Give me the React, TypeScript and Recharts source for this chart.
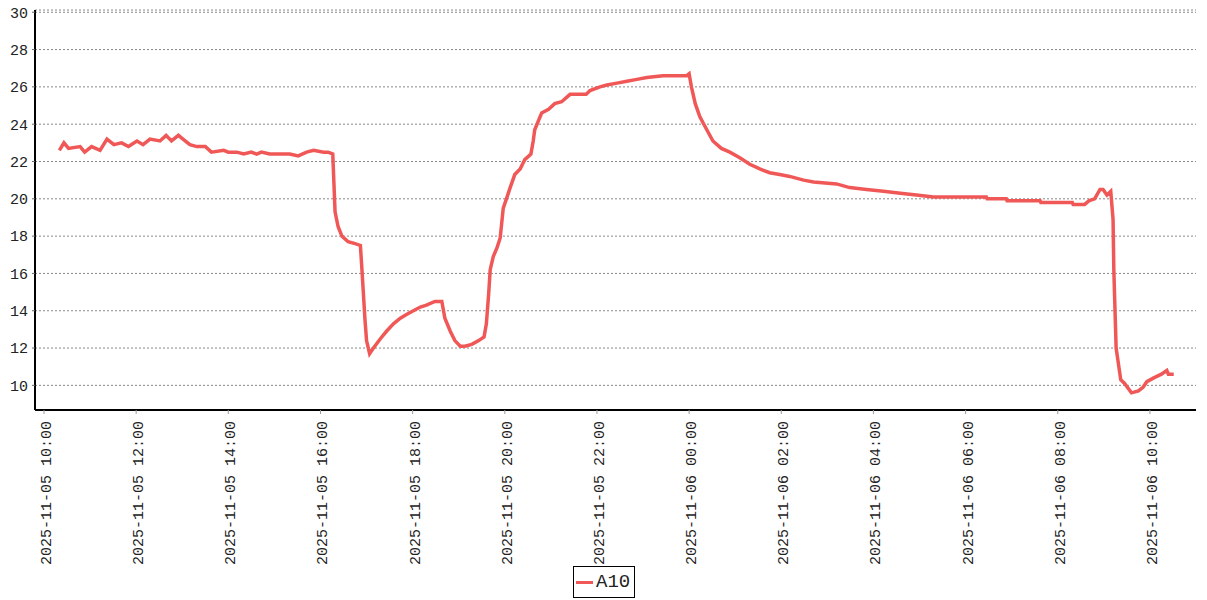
import { LineChart, Line, XAxis, YAxis, CartesianGrid } from 'recharts';

const seriesName = 'A10';

// reading times (MM-DD HH:MM) and temperatures
const times = [
  '11-05 10:20', '11-05 10:26', '11-05 10:32', '11-05 10:47', '11-05 10:53', '11-05 11:02', '11-05 11:13',
  '11-05 11:22', '11-05 11:31', '11-05 11:41', '11-05 11:50', '11-05 12:01', '11-05 12:09', '11-05 12:18',
  '11-05 12:31', '11-05 12:39', '11-05 12:46', '11-05 12:55', '11-05 13:01', '11-05 13:10', '11-05 13:19',
  '11-05 13:30', '11-05 13:38', '11-05 13:54', '11-05 14:00', '11-05 14:11', '11-05 14:20', '11-05 14:30',
  '11-05 14:37', '11-05 14:43', '11-05 14:54', '11-05 15:20', '11-05 15:31', '11-05 15:42', '11-05 15:51',
  '11-05 16:04', '11-05 16:10', '11-05 16:16', '11-05 16:19', '11-05 16:23', '11-05 16:28', '11-05 16:36',
  '11-05 16:45', '11-05 16:52', '11-05 16:54', '11-05 16:58', '11-05 17:00', '11-05 17:04', '11-05 17:09',
  '11-05 17:18', '11-05 17:26', '11-05 17:35', '11-05 17:44', '11-05 17:52', '11-05 18:01', '11-05 18:10',
  '11-05 18:18', '11-05 18:29', '11-05 18:38', '11-05 18:42', '11-05 18:49', '11-05 18:55', '11-05 19:02',
  '11-05 19:08', '11-05 19:17', '11-05 19:26', '11-05 19:33', '11-05 19:36', '11-05 19:39', '11-05 19:41',
  '11-05 19:45', '11-05 19:50', '11-05 19:54', '11-05 19:58', '11-05 20:03', '11-05 20:07', '11-05 20:13',
  '11-05 20:20', '11-05 20:26', '11-05 20:34', '11-05 20:37', '11-05 20:39', '11-05 20:44', '11-05 20:48',
  '11-05 20:57', '11-05 21:05', '11-05 21:14', '11-05 21:25', '11-05 21:46', '11-05 21:51', '11-05 22:04',
  '11-05 22:13', '11-05 22:26', '11-05 22:39', '11-05 22:52', '11-05 23:05', '11-05 23:26', '11-05 23:57',
  '11-06 00:00', '11-06 00:03', '11-06 00:08', '11-06 00:14', '11-06 00:23', '11-06 00:31', '11-06 00:42',
  '11-06 00:53', '11-06 01:06', '11-06 01:19', '11-06 01:32', '11-06 01:45', '11-06 01:58', '11-06 02:11',
  '11-06 02:29', '11-06 02:42', '11-06 03:12', '11-06 03:29', '11-06 03:51', '11-06 04:13', '11-06 04:35',
  '11-06 04:56', '11-06 05:18', '11-06 06:27', '11-06 06:28', '11-06 06:53', '11-06 06:54', '11-06 07:37',
  '11-06 07:38', '11-06 08:19', '11-06 08:20', '11-06 08:35', '11-06 08:41', '11-06 08:48', '11-06 08:55',
  '11-06 08:59', '11-06 09:04', '11-06 09:09', '11-06 09:12', '11-06 09:13', '11-06 09:16', '11-06 09:22',
  '11-06 09:27', '11-06 09:36', '11-06 09:45', '11-06 09:51', '11-06 09:56', '11-06 10:05', '11-06 10:15',
  '11-06 10:22', '11-06 10:24', '11-06 10:31',
];

const a10 = [
  22.6, 23.0, 22.7, 22.8, 22.5, 22.8, 22.6,
  23.2, 22.9, 23.0, 22.8, 23.1, 22.9, 23.2,
  23.1, 23.4, 23.1, 23.4, 23.2, 22.9, 22.8,
  22.8, 22.5, 22.6, 22.5, 22.5, 22.4, 22.5,
  22.4, 22.5, 22.4, 22.4, 22.3, 22.5, 22.6,
  22.5, 22.5, 22.4, 19.3, 18.5, 18.0, 17.7,
  17.6, 17.5, 16.2, 13.5, 12.4, 11.7, 12.0,
  12.5, 12.9, 13.3, 13.6, 13.8, 14.0, 14.2,
  14.3, 14.5, 14.5, 13.6, 12.9, 12.4, 12.1,
  12.1, 12.2, 12.4, 12.6, 13.3, 14.9, 16.2,
  16.9, 17.4, 17.9, 19.5, 20.1, 20.6, 21.3,
  21.6, 22.1, 22.4, 23.1, 23.7, 24.2, 24.6,
  24.8, 25.1, 25.2, 25.6, 25.6, 25.8, 26.0,
  26.1, 26.2, 26.3, 26.4, 26.5, 26.6, 26.6,
  26.7, 26.0, 25.1, 24.4, 23.7, 23.1, 22.7,
  22.5, 22.2, 21.85, 21.6, 21.4, 21.3, 21.2,
  21.0, 20.9, 20.8, 20.6, 20.5, 20.4, 20.3,
  20.2, 20.1, 20.1, 20.0, 20.0, 19.9, 19.9,
  19.8, 19.8, 19.7, 19.7, 19.9, 20.0, 20.5,
  20.5, 20.2, 20.4, 18.9, 16.2, 12.0, 10.3,
  10.1, 9.6, 9.7, 9.9, 10.2, 10.4, 10.6,
  10.8, 10.6, 10.6,
];

const xTickLabels = [
  '2025-11-05 10:00', '2025-11-05 12:00', '2025-11-05 14:00', '2025-11-05 16:00', '2025-11-05 18:00',
  '2025-11-05 20:00', '2025-11-05 22:00', '2025-11-06 00:00', '2025-11-06 02:00', '2025-11-06 04:00',
  '2025-11-06 06:00', '2025-11-06 08:00', '2025-11-06 10:00',
];

const yTicks = [10, 12, 14, 16, 18, 20, 22, 24, 26, 28, 30];

// hours since 2025-11-05 00:00
const toHours = (s: string) => {
  const m = s.match(/(\d\d)-(\d\d) (\d\d):(\d\d)$/)!;
  return (parseInt(m[2], 10) - 5) * 24 + parseInt(m[3], 10) + parseInt(m[4], 10) / 60;
};

const data = times.map((t, i) => ({ t: toHours(t), v: a10[i] }));
const xTicks = xTickLabels.map(toHours);
const labelFor = (h: number) => xTickLabels[xTicks.indexOf(h)] ?? '';

const FONT = '"Liberation Mono", monospace';
const LINE_COLOR = '#f05858';
const TEXT = '#222';

function RotatedTick(props: any) {
  const { x, y, payload } = props;
  return (
    <g transform={`translate(${x},${y})`}>
      <text
        transform="rotate(-90)"
        x={-5}
        y={7}
        textAnchor="end"
        fill={TEXT}
        fontSize={15}
        fontFamily={FONT}
      >
        {labelFor(payload.value)}
      </text>
    </g>
  );
}

export default function App() {
  return (
    <div style={{ position: 'relative', width: 1207, height: 600, margin: '-8px 0 0 -8px', background: '#fff' }}>
      <LineChart width={1207} height={600} data={data} margin={{ top: 10, right: 11, left: 0, bottom: 30 }}>
        <CartesianGrid vertical={false} stroke="#888" strokeDasharray="2 2" />
        <XAxis
          dataKey="t"
          type="number"
          domain={[9.805, 35.0]}
          ticks={xTicks}
          allowDataOverflow
          height={160}
          tickSize={4}
          tickLine={{ stroke: '#999' }}
          axisLine={{ stroke: '#000', strokeWidth: 2 }}
          tick={<RotatedTick />}
          interval={0}
        />
        <YAxis
          type="number"
          domain={[8.68, 30.12]}
          ticks={yTicks}
          allowDataOverflow
          width={35}
          tickSize={3}
          tickMargin={4}
          tickLine={{ stroke: '#666' }}
          axisLine={{ stroke: '#000', strokeWidth: 2 }}
          tick={{ fill: TEXT, fontSize: 15, fontFamily: FONT }}
          interval={0}
        />
        <Line
          type="linear"
          dataKey="v"
          name={seriesName}
          stroke={LINE_COLOR}
          strokeWidth={3.5}
          dot={false}
          isAnimationActive={false}
        />
      </LineChart>
      <div
        style={{
          position: 'absolute',
          left: 573,
          top: 566,
          width: 60,
          height: 30,
          border: '1px solid #000',
          display: 'flex',
          alignItems: 'center',
          fontFamily: FONT,
          fontSize: 19,
          color: TEXT,
        }}
      >
        <span style={{ display: 'inline-block', width: 17, height: 3, background: LINE_COLOR, marginLeft: 2, marginRight: 3 }} />
        <span>{seriesName}</span>
      </div>
    </div>
  );
}
